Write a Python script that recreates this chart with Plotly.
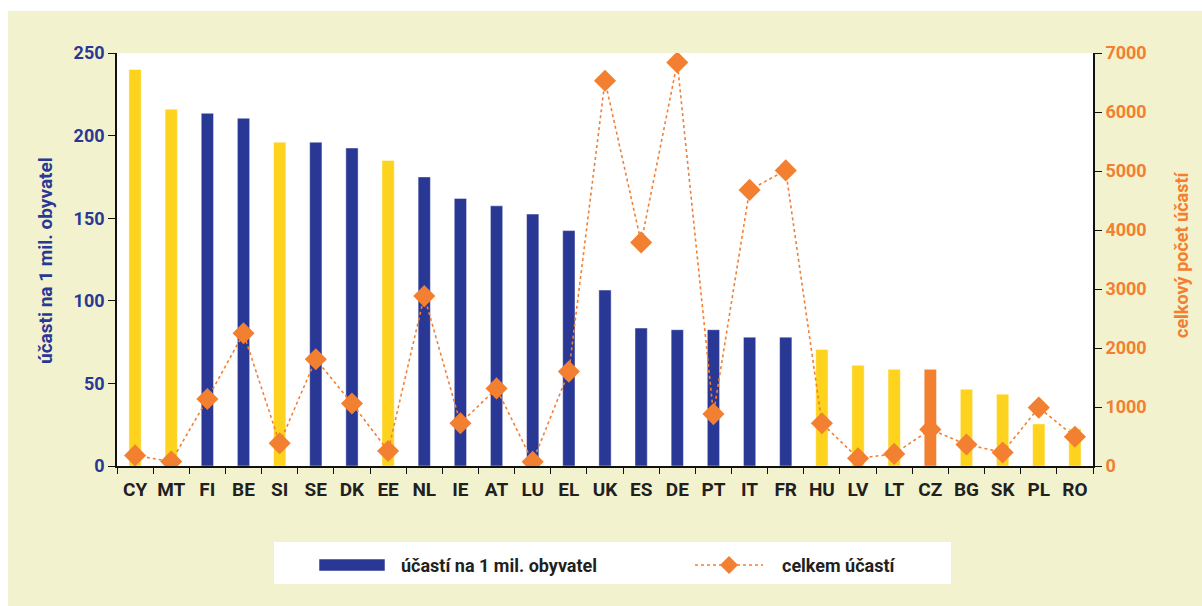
import plotly.graph_objects as go

# EU member states, ordered by participations per 1 million inhabitants
countries = ["CY", "MT", "FI", "BE", "SI", "SE", "DK", "EE", "NL", "IE", "AT", "LU", "EL",
             "UK", "ES", "DE", "PT", "IT", "FR", "HU", "LV", "LT", "CZ", "BG", "SK", "PL", "RO"]
per_million = [240, 216, 213.5, 210.5, 196, 196, 192.5, 185, 175, 162, 157.5, 152.5, 142.5,
               106.5, 83.5, 82.5, 82.5, 78, 78, 70.5, 61, 58.5, 58.5, 46.5, 43.5, 25.5, 22.5]
total = [180, 75, 1135, 2250, 385, 1810, 1060, 255, 2880, 725, 1315, 70, 1600,
         6530, 3790, 6840, 880, 4680, 5010, 725, 130, 205, 620, 365, 230, 990, 495]

new_members = ["CY", "MT", "SI", "EE", "HU", "LV", "LT", "CZ", "BG", "SK", "PL", "RO"]
highlight = "CZ"

NAVY = "#2A3895"
YELLOW = "#FDD31D"
ORANGE = "#F37F31"
BEIGE = "#F2F3CE"
DARK = "#231F20"
FONT = "Roboto"

bar_colors = [ORANGE if c == highlight else (YELLOW if c in new_members else NAVY)
              for c in countries]

W, H = 1202, 606
L, R, T, B = 117, 109, 53, 140
PW, PH = W - L - R, H - T - B


def px_x(px):
    return (px - L) / PW


def px_y(py):
    return (H - B - py) / PH


fig = go.Figure()

fig.add_trace(go.Bar(
    x=countries, y=per_million, name="účastí na 1 mil. obyvatel",
    marker=dict(color=bar_colors, line=dict(color="rgba(255,255,255,0.45)", width=1)),
    width=0.34, yaxis="y", showlegend=False,
))

fig.add_trace(go.Scatter(
    x=countries, y=total, name="celkem účastí", mode="lines+markers",
    line=dict(color=ORANGE, width=1.6, dash="dot"),
    marker=dict(symbol="diamond", size=17, color=ORANGE),
    yaxis="y2", showlegend=False,
))

tick_font = dict(family=FONT, size=18, weight="bold")

fig.update_layout(
    width=W, height=H,
    margin=dict(l=L, r=R, t=T, b=B, autoexpand=False),
    paper_bgcolor="white", plot_bgcolor="white",
    font=dict(family=FONT),
    bargap=0.66,
    xaxis=dict(type="category", categoryarray=countries, range=[-0.5, len(countries) - 0.5],
               showline=True, linecolor="#111", linewidth=1.6, ticks="outside",
               tickson="boundaries", ticklen=6, tickcolor="#111", tickwidth=1.4,
               tickangle=0, ticklabelstandoff=5, showgrid=False,
               tickfont=dict(tick_font, size=19, color=DARK)),
    xaxis2=dict(overlaying="x", range=[-0.5, len(countries) - 0.5], tick0=0.5, dtick=1,
                ticks="inside", ticklen=6, tickcolor="#111", tickwidth=1.4,
                showticklabels=False, showgrid=False, showline=False, zeroline=False,
                anchor="y"),
    yaxis=dict(range=[0, 250], dtick=50, showline=True, linecolor="#111", linewidth=1.6,
               ticks="outside", ticklen=7, tickcolor="#111", tickwidth=1.4,
               showgrid=False, zeroline=False, tickfont=dict(tick_font, color=NAVY)),
    yaxis3=dict(overlaying="y", range=[0, 250], dtick=50, side="left", anchor="x",
                ticks="inside", ticklen=7, tickcolor="#111", tickwidth=1.4,
                showticklabels=False, showgrid=False, zeroline=False, showline=False),
    yaxis2=dict(overlaying="y", side="right", range=[0, 7000], dtick=1000, showline=True,
                linecolor="#111", linewidth=1.6, ticks="outside", ticklen=7, tickcolor="#111",
                tickwidth=1.4, showgrid=False, zeroline=False,
                tickfont=dict(tick_font, color=ORANGE)),
    yaxis4=dict(overlaying="y", side="right", range=[0, 7000], dtick=1000, anchor="x",
                ticks="inside", ticklen=7, tickcolor="#111", tickwidth=1.4,
                showticklabels=False, showgrid=False, zeroline=False, showline=False),
)

# page background and the white plotting panel
shapes = [
    dict(type="rect", xref="paper", yref="paper", layer="below",
         x0=px_x(8), x1=px_x(W + 2), y0=px_y(H + 2), y1=px_y(11),
         fillcolor=BEIGE, line=dict(width=0)),
    dict(type="rect", xref="paper", yref="paper", layer="below",
         x0=0, x1=1, y0=0, y1=px_y(T), fillcolor="white", line=dict(width=0)),
    # legend panel
    dict(type="rect", xref="paper", yref="paper", layer="above",
         x0=px_x(274), x1=px_x(951), y0=px_y(584), y1=px_y(542),
         fillcolor="white", line=dict(width=0)),
    dict(type="rect", xref="paper", yref="paper", layer="above",
         x0=px_x(319), x1=px_x(385), y0=px_y(571), y1=px_y(559),
         fillcolor=NAVY, line=dict(color="rgba(255,255,255,0.5)", width=1)),
    dict(type="line", xref="paper", yref="paper", layer="above",
         x0=px_x(695), x1=px_x(763), y0=px_y(565), y1=px_y(565),
         line=dict(color=ORANGE, width=1.6, dash="dot")),
]
cx, cy, d = 729, 565, 9
shapes.append(dict(
    type="path", xref="paper", yref="paper", layer="above",
    path=(f"M {px_x(cx - d)},{px_y(cy)} L {px_x(cx)},{px_y(cy - d)} "
          f"L {px_x(cx + d)},{px_y(cy)} L {px_x(cx)},{px_y(cy + d)} Z"),
    fillcolor=ORANGE, line=dict(width=0)))
fig.update_layout(shapes=shapes)

title_font = dict(family=FONT, size=18, weight="bold")
fig.update_layout(annotations=[
    dict(text="účasti na 1 mil. obyvatel", xref="paper", yref="paper",
         x=px_x(45), y=px_y(261), textangle=-90, showarrow=False,
         xanchor="center", yanchor="middle", font=dict(title_font, size=19, color=NAVY)),
    dict(text="celkový počet účastí", xref="paper", yref="paper",
         x=px_x(1181), y=px_y(255), textangle=-90, showarrow=False,
         xanchor="center", yanchor="middle", font=dict(title_font, color=ORANGE)),
    dict(text="účastí na 1 mil. obyvatel", xref="paper", yref="paper",
         x=px_x(399), y=px_y(565), showarrow=False, xanchor="left", yanchor="middle",
         font=dict(title_font, color=DARK)),
    dict(text="celkem účastí", xref="paper", yref="paper",
         x=px_x(780), y=px_y(565), showarrow=False, xanchor="left", yanchor="middle",
         font=dict(title_font, color=DARK)),
])

fig.write_html("out.html")
